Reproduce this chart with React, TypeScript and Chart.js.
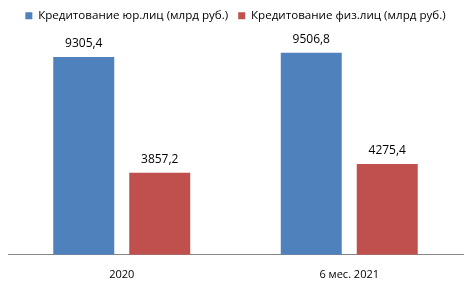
import React, { useEffect, useRef } from "react";
import { Chart, registerables } from "chart.js";

Chart.register(...registerables);

const categories = ["2020", "6 мес. 2021"];
const seriesNames = ["Кредитование юр.лиц (млрд руб.)", "Кредитование физ.лиц (млрд руб.)"];
const legalValues = [9305.4, 9506.8];
const personalValues = [3857.2, 4275.4];
const colors = ["#4F81BD", "#C0504D"];
const yMax = 10500;

const FONT = "'Open Sans', 'Liberation Sans', sans-serif";

const valueLabels = {
  id: "valueLabels",
  afterDatasetsDraw(chart: any) {
    const ctx = chart.ctx;
    ctx.save();
    ctx.font = `12px ${FONT}`;
    ctx.fillStyle = "#000";
    ctx.textAlign = "center";
    ctx.textBaseline = "bottom";
    chart.data.datasets.forEach((ds: any, i: number) => {
      const meta = chart.getDatasetMeta(i);
      meta.data.forEach((bar: any, j: number) => {
        const v = ds.data[j] as number;
        const txt = v.toFixed(1).replace(".", ",");
        ctx.fillText(txt, bar.x, bar.y - 7);
      });
    });
    ctx.restore();
  },
};

export default function App() {
  const ref = useRef<HTMLCanvasElement>(null);
  useEffect(() => {
    if (!ref.current) return;
    const chart = new Chart(ref.current, {
      type: "bar",
      data: {
        labels: categories,
        datasets: [
          { label: seriesNames[0], data: legalValues, backgroundColor: colors[0], categoryPercentage: 0.668, barPercentage: 0.8026 },
          { label: seriesNames[1], data: personalValues, backgroundColor: colors[1], categoryPercentage: 0.668, barPercentage: 0.8026 },
        ],
      },
      options: {
        responsive: false,
        animation: false,
        layout: { padding: { left: 8, right: 10, top: 0, bottom: -4 } },
        plugins: {
          legend: {
            display: true,
            position: "top",
            labels: {
              boxWidth: 7,
              boxHeight: 7,
              padding: 10,
              color: "#000",
              font: { family: FONT, size: 11.6 },
            },
          },
          tooltip: { enabled: false },
        },
        scales: {
          x: {
            grid: { display: false, drawTicks: false },
            border: { display: true, color: "#868686" },
            ticks: { color: "#000", font: { family: FONT, size: 11 }, padding: 13 },
          },
          y: {
            display: false,
            min: 0,
            max: yMax,
          },
        },
      },
      plugins: [valueLabels],
    });
    return () => chart.destroy();
  }, []);
  return (
    <div style={{ position: "fixed", left: 0, top: 0, width: 473, height: 290, background: "#fff" }}>
      <canvas ref={ref} width={473} height={290} />
    </div>
  );
}
